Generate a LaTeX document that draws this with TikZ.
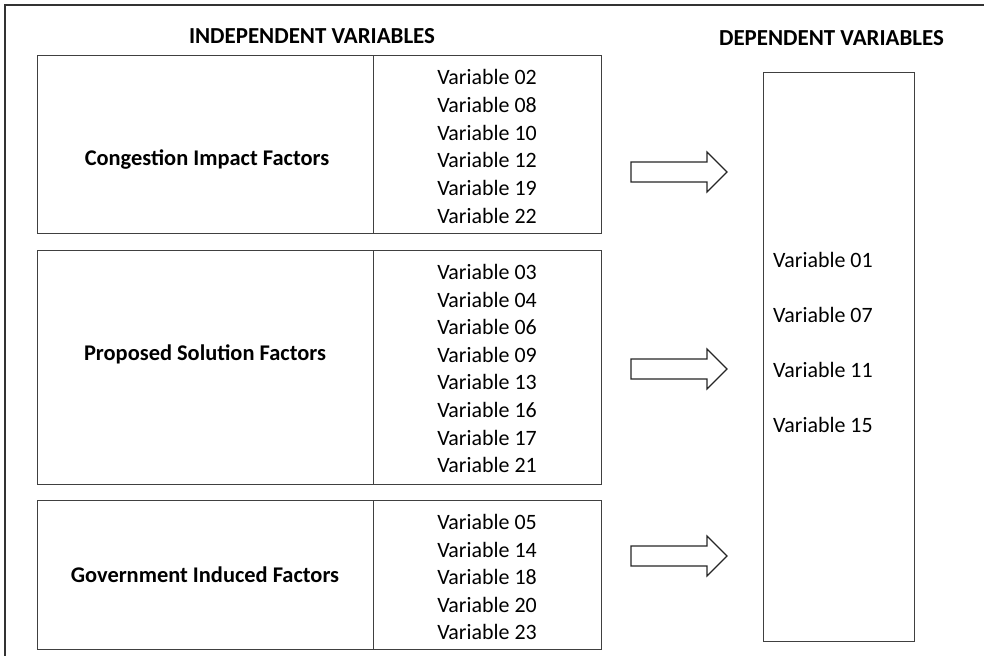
\documentclass[tikz,border=0pt]{standalone}
\usepackage{fontspec}
\setmainfont{Carlito}
\begin{document}
\begin{tikzpicture}[x=1bp,y=-1bp,
  boxline/.style={draw=black!75, line width=1bp},
  var/.style={font=\fontsize{22}{26}\selectfont, inner sep=0pt, anchor=base},
  factor/.style={font=\bfseries\fontsize{22.5}{27}\selectfont, inner sep=0pt, anchor=base},
  head/.style={font=\bfseries\fontsize{23}{28}\selectfont, inner sep=0pt, anchor=base},
  blockarrow/.style={draw=black!85, line width=1.2bp, fill=white, line join=miter}]
\useasboundingbox (0,0) rectangle (984,656);
% outer frame (cut at right and bottom)
\draw[draw=black!80, line width=1.5bp] (5,656) -- (5,5) -- (984,5);
% headings
\node[head] (hind) at (312,44) {INDEPENDENT VARIABLES};
\node[head] (hdep) at (831.5,45.5) {DEPENDENT VARIABLES};
% box 1
\draw[boxline] (37,56) rectangle (601,233);
\draw[boxline] (373,56) -- (373,233);
\node[factor] (f1) at (207,165.5) {Congestion Impact Factors};
\foreach \v [count=\i] in {02,08,10,12,19,22}
  \node[var] (a\i) at (487,{85+(\i-1)*27.6}) {Variable \v};
% box 2
\draw[boxline] (37,250) rectangle (601,484);
\draw[boxline] (373,250) -- (373,484);
\node[factor] (f2) at (205,360.5) {Proposed Solution Factors};
\foreach \v [count=\i] in {03,04,06,09,13,16,17,21}
  \node[var] (b\i) at (487,{279.5+(\i-1)*27.6}) {Variable \v};
% box 3
\draw[boxline] (37,500) rectangle (601,649);
\draw[boxline] (373,500) -- (373,649);
\node[factor] (f3) at (205,582.5) {Government Induced Factors};
\foreach \v [count=\i] in {05,14,18,20,23}
  \node[var] (c\i) at (487,{529.5+(\i-1)*27.5}) {Variable \v};
% dependent box
\draw[boxline] (763,73) rectangle (914,641);
\foreach \v [count=\i] in {01,07,11,15}
  \node[var, anchor=base west] (d\i) at (773,{267.5+(\i-1)*55}) {Variable \v};
% block arrows
\foreach \yc in {172,369,556}
  \draw[blockarrow] (631,\yc-10) -- (707,\yc-10) -- (707,\yc-20) -- (727,\yc)
     -- (707,\yc+20) -- (707,\yc+10) -- (631,\yc+10) -- cycle;
\end{tikzpicture}
\end{document}
